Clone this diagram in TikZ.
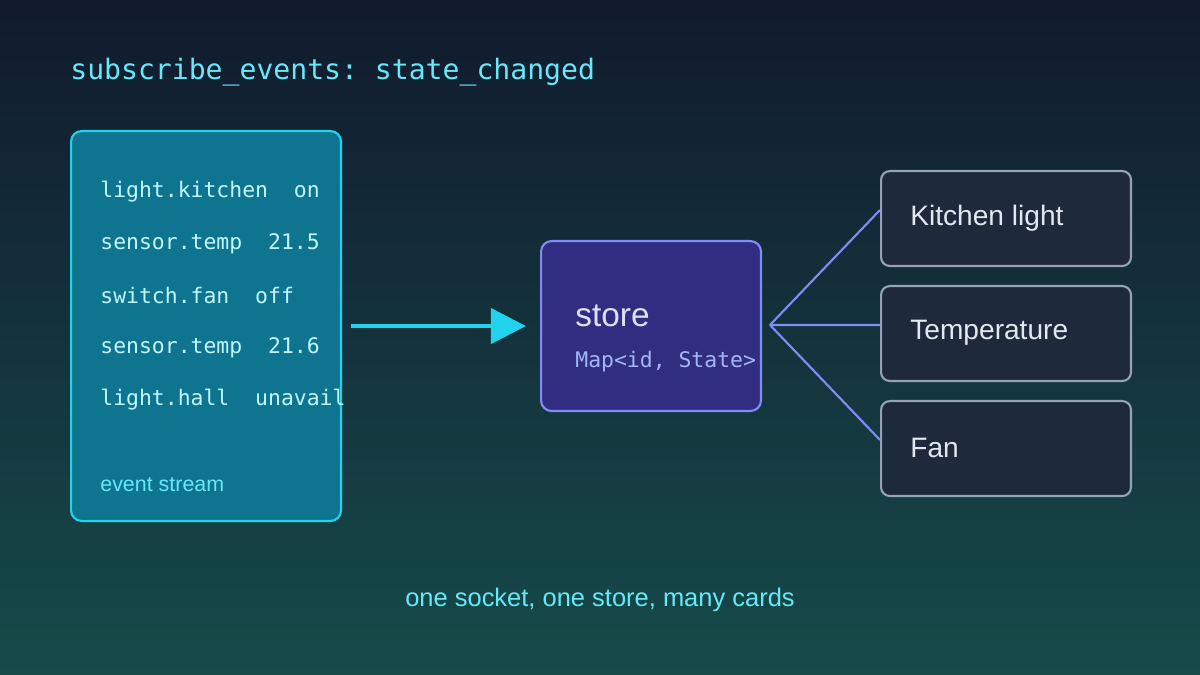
\documentclass[tikz,border=0pt]{standalone}
\usepackage{fontspec}
\setmainfont{Liberation Sans}
\setmonofont{DejaVu Sans Mono}
\usetikzlibrary{arrows.meta}
\definecolor{bgtop}{HTML}{111A2E}
\definecolor{bgbot}{HTML}{164B4A}
\definecolor{cyanline}{HTML}{22D3EE}
\definecolor{cyantext}{HTML}{67E8F9}
\definecolor{streamfill}{HTML}{0E7490}
\definecolor{streamtext}{HTML}{CFFAFE}
\definecolor{storefill}{HTML}{312E81}
\definecolor{storeline}{HTML}{818CF8}
\definecolor{storetext}{HTML}{A5B4FC}
\definecolor{cardfill}{HTML}{1E293B}
\definecolor{cardline}{HTML}{94A3B8}
\definecolor{cardtext}{HTML}{E2E8F0}
\tikzset{
  evt/.style={anchor=west,inner sep=0pt,text=streamtext!85!cyantext,font=\ttfamily\fontsize{12.2}{14}\selectfont},
  card/.style={draw=cardline,fill=cardfill,line width=1.2pt,rounded corners=5pt,
    minimum width=5cm,minimum height=1.9cm,anchor=north west},
  cardlabel/.style={anchor=west,inner sep=0pt,text=cardtext,font=\fontsize{16}{18}\selectfont},
  fan/.style={storeline,line width=1.2pt}
}
\begin{document}
\begin{tikzpicture}[x=0.02cm,y=-0.02cm]
        \shade[top color=bgtop,bottom color=bgbot] (0,0) rectangle (1200,675);
        \useasboundingbox (0,0) rectangle (1200,675);
        \node[anchor=west,inner sep=0pt,text=cyantext,font=\ttfamily\fontsize{16}{18}\selectfont] (title) at (70,72) {subscribe\_events: state\_changed};
        % event stream
        \node[draw=cyanline,fill=streamfill,line width=1.2pt,rounded corners=6pt,
          minimum width=5.4cm,minimum height=7.8cm,anchor=north west] (stream) at (70,130) {};
        \node[evt] (e1) at (100,192) {light.kitchen\ \ on};
        \node[evt] (e2) at (100,244) {sensor.temp\ \ 21.5};
        \node[evt] (e3) at (100,296) {switch.fan\ \ off};
        \node[evt] (e4) at (100,348) {sensor.temp\ \ 21.6};
        \node[evt] (e5) at (100,400) {light.hall\ \ unavail};
        \node[anchor=west,inner sep=0pt,text=cyantext,font=\fontsize{12.2}{14}\selectfont] (slabel) at (100,485) {event stream};
        % store
        \node[draw=storeline,fill=storefill,line width=1.2pt,rounded corners=6pt,
          minimum width=4.4cm,minimum height=3.4cm,anchor=north west] (store) at (540,240) {};
        \node[anchor=west,inner sep=0pt,text=storetext!40!white,font=\fontsize{19}{21}\selectfont] (storename) at (575,316) {store};
        \node[anchor=west,inner sep=0pt,text=storetext,font=\ttfamily\fontsize{12.2}{14}\selectfont] (storetype) at (575,362) {Map<id, State>};
        \draw[cyanline,line width=2.3pt,-{Triangle[length=20pt,width=20pt]},shorten <=5pt,shorten >=8pt]
          (stream.east |- store.west) -- (store.west);
        % cards
        \node[card] (c1) at (880,170) {};
        \node[card] (c2) at (880,285) {};
        \node[card] (c3) at (880,400) {};
        \node[cardlabel] at (910,218) {Kitchen light};
        \node[cardlabel] at (910,333) {Temperature};
        \node[cardlabel] at (910,448) {Fan};
        \coordinate (hub) at (770,325);
        \draw[fan] (hub) -- ([yshift=-0.8cm]c1.north west);
        \draw[fan] (hub) -- ([yshift=-0.8cm]c2.north west);
        \draw[fan] (hub) -- ([yshift=-0.8cm]c3.north west);
        \node[text=cyantext,font=\fontsize{14.5}{16}\selectfont] (caption) at (600,600) {one socket, one store, many cards};
      \end{tikzpicture}
\end{document}
